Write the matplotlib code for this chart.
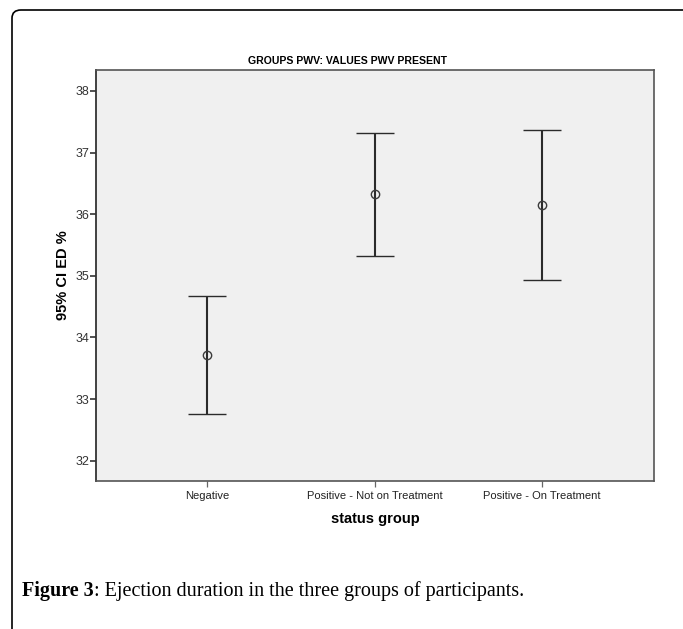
import matplotlib
matplotlib.use("Agg")
import matplotlib.pyplot as plt
from matplotlib.patches import FancyBboxPatch
import numpy as np

# Group means and 95% confidence limits of ejection duration (%)
groups = ["Negative", "Positive - Not on Treatment", "Positive - On Treatment"]
means = [33.71, 36.32, 36.15]
ci_lower = [32.75, 35.32, 34.94]
ci_upper = [34.68, 37.32, 37.36]
y_ticks = [32, 33, 34, 35, 36, 37, 38]

W, H = 683, 629
fig = plt.figure(figsize=(W / 100, H / 100), dpi=100)
fig.patch.set_facecolor("white")

def fx(px):
    return px / W

def fy(py):
    return 1 - py / H

# Rounded frame around the figure panel
frame = FancyBboxPatch((fx(12), fy(660)), fx(700) - fx(12), fy(10) - fy(660),
                       boxstyle="round,pad=0,rounding_size=0.013",
                       transform=fig.transFigure, fill=False,
                       edgecolor="black", linewidth=1.2, clip_on=False)
fig.patches.append(frame)

ax = fig.add_axes([fx(96), fy(481), fx(654) - fx(96), fy(70) - fy(481)])
ax.set_facecolor("#f0f0f0")

x = np.arange(len(groups))
m = np.array(means)
yerr = np.vstack([m - np.array(ci_lower), np.array(ci_upper) - m])
ax.errorbar(x, m, yerr=yerr, fmt="o", color="#2b2b2b", ecolor="#2b2b2b",
            elinewidth=1.5, capsize=14, capthick=1.7,
            markersize=6, markerfacecolor="none", markeredgecolor="#3a3a3a",
            markeredgewidth=1.0)

ax.set_xlim(-0.665, 2.67)
ax.set_ylim(31.67, 38.34)
ax.set_xticks(x)
ax.set_xticklabels(groups, fontsize=8, family="Liberation Sans", color="#222222")
ax.set_yticks(y_ticks)
ax.set_yticklabels([str(v) for v in y_ticks], fontsize=9,
                   family="Liberation Sans", color="#333333")
ax.tick_params(axis="y", direction="out", length=4, width=1.2, color="#333333", pad=1)
ax.tick_params(axis="x", direction="out", length=4, width=0.9, color="#666666", pad=3)

for side in ["top", "right", "bottom"]:
    ax.spines[side].set_color("#555555")
    ax.spines[side].set_linewidth(1.2)
ax.spines["left"].set_color("#333333")
ax.spines["left"].set_linewidth(1.3)

ax.set_xlabel("status group", fontsize=10.5, fontweight="bold",
              family="Liberation Sans", labelpad=8)
ax.set_ylabel("95% CI ED %", fontsize=10.5, fontweight="bold",
              family="Liberation Sans", labelpad=4)

fig.text(fx(348), fy(61), "GROUPS PWV: VALUES PWV PRESENT", ha="center",
         va="center", fontsize=7.6, fontweight="bold", family="Liberation Sans")

# Caption: bold figure number followed by regular text
cap_y = fy(596)
t1 = fig.text(fx(22), cap_y, "Figure 3", fontsize=14.5, fontweight="bold",
              family="Liberation Serif", va="baseline", ha="left")
fig.canvas.draw()
bb = t1.get_window_extent(renderer=fig.canvas.get_renderer())
fig.text(bb.x1 / W, cap_y, ": Ejection duration in the three groups of participants.",
         fontsize=14.5, family="Liberation Serif", va="baseline", ha="left")

fig.savefig("out.png", dpi=100, facecolor="white")
